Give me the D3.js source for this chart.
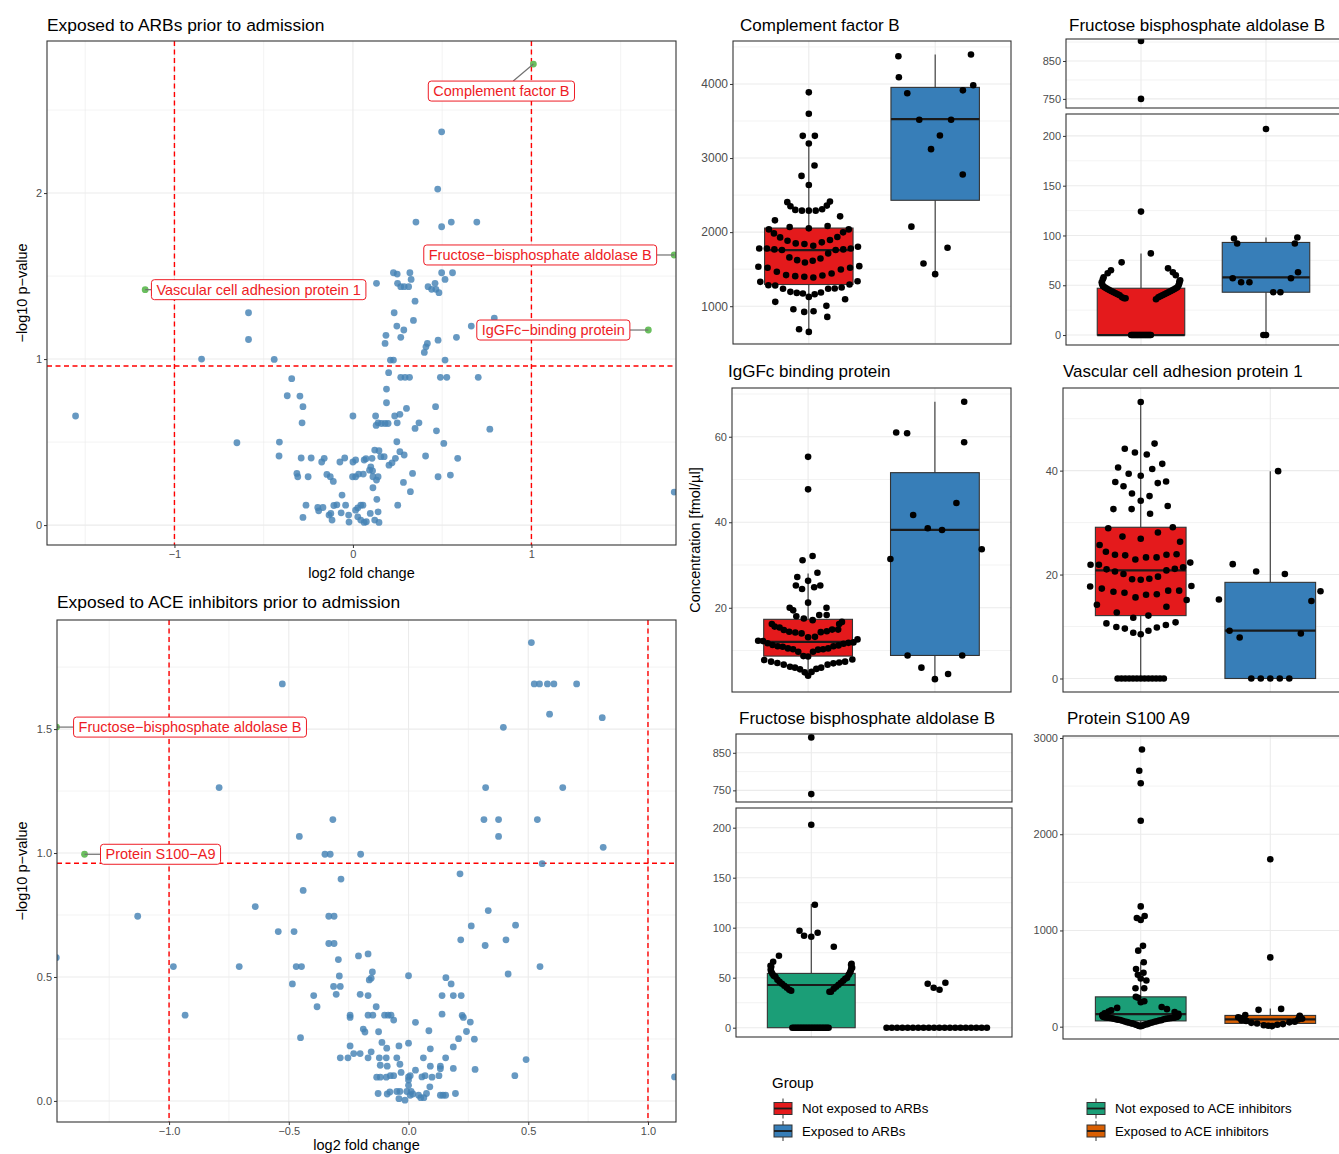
<!DOCTYPE html>
<html>
<head>
<meta charset="utf-8">
<script src="https://cdn.jsdelivr.net/npm/d3@7/dist/d3.min.js"></script>
<style>
  body { margin: 0; background: #fff; }
  svg text { font-family: "Liberation Sans", Arial, Helvetica, sans-serif; }
</style>
</head>
<body>
<svg id="fig" width="1339" height="1154"></svg>
<script>
// ---- volcano data: [log2 fold change, -log10 p] ----
const arbPoints = [
  [0.497,2.369],[0.475,2.024],[0.353,1.825],[0.497,1.797],[0.551,1.825],[0.694,1.825],
  [0.227,1.520],[0.248,1.512],[0.319,1.520],[0.497,1.520],[0.558,1.520],[0.326,1.480],[0.516,1.480],
  [0.132,1.456],[0.250,1.456],[0.268,1.436],[0.287,1.436],[0.312,1.436],[0.421,1.436],[0.460,1.456],
  [0.441,1.420],[0.465,1.420],[0.482,1.400],
  [0.348,1.349],[0.231,1.279],[0.339,1.233],[0.246,1.199],[0.285,1.175],[0.185,1.143],[0.268,1.131],
  [0.180,1.094],[0.417,1.094],[0.409,1.074],[0.400,1.040],[0.477,1.114],[0.580,1.131],[0.663,1.199],[0.792,1.247],
  [-0.585,1.279],[-0.585,1.118],[-0.848,1.000],[-0.441,0.998],[0.210,0.994],[0.227,0.994],[0.516,0.994],
  [0.200,0.918],[0.268,0.890],[0.292,0.890],[0.317,0.890],[0.490,0.890],[0.526,0.890],[0.702,0.890],
  [-0.343,0.882],[0.188,0.819],[-0.368,0.779],[-0.297,0.777],[-0.280,0.713],[0.188,0.737],[0.300,0.703],[0.463,0.713],
  [-1.554,0.657],[0.000,0.657],[0.127,0.657],[0.234,0.657],[0.263,0.667],
  [-0.285,0.616],[0.130,0.600],[0.141,0.616],[0.160,0.612],[0.180,0.612],[0.197,0.612],[0.248,0.616],[0.370,0.616],
  [0.348,0.582],[0.468,0.568],[0.767,0.578],
  [-0.650,0.496],[-0.412,0.500],[0.246,0.502],[0.509,0.492],
  [-0.414,0.416],[-0.290,0.404],[-0.234,0.404],[-0.175,0.380],[-0.161,0.402],[-0.073,0.380],[-0.046,0.404],
  [0.000,0.380],[0.015,0.392],[0.063,0.392],[0.073,0.400],[0.107,0.402],[0.122,0.452],[0.146,0.448],[0.156,0.412],[0.175,0.412],
  [0.100,0.351],[0.110,0.327],[0.202,0.361],[0.219,0.375],[0.238,0.402],[0.263,0.442],[0.287,0.422],[0.407,0.416],[0.587,0.402],
  [-0.314,0.311],[-0.309,0.291],[-0.251,0.291],[-0.146,0.305],[-0.127,0.291],[-0.110,0.263],
  [-0.002,0.291],[0.015,0.291],[0.032,0.307],[0.058,0.307],[0.093,0.331],[0.112,0.291],[0.132,0.271],[0.141,0.291],
  [0.112,0.225],[0.134,0.155],[0.283,0.257],[0.322,0.201],[0.334,0.311],[0.477,0.291],[0.546,0.301],[1.800,0.199],
  [-0.061,0.181],[-0.263,0.120],[-0.197,0.106],[-0.168,0.106],[-0.192,0.086],
  [-0.134,0.060],[-0.124,0.070],[-0.107,0.118],[-0.090,0.122],[-0.041,0.120],[-0.117,0.030],[-0.280,0.046],[-0.066,0.074],
  [-0.024,0.060],[-0.022,0.018],[0.015,0.090],[0.027,0.104],[0.044,0.120],[0.056,0.120],
  [0.027,0.050],[0.044,0.030],[0.063,0.016],[0.075,0.020],[0.097,0.070],[0.122,0.030],[0.141,0.080],[0.146,0.016],[0.251,0.120]
];
const arbHighlights = [
  ["Complement factor B", 1.011, 2.777],
  ["Fructose\u2212bisphosphate aldolase B", 1.80, 1.627],
  ["Vascular cell adhesion protein 1", -1.164, 1.418],
  ["IgGFc\u2212binding protein", 1.655, 1.175]
];
const acePoints = [
  [0.513,1.849],[-0.527,1.682],[0.525,1.682],[0.547,1.682],[0.580,1.682],[0.607,1.682],[0.702,1.682],
  [0.589,1.560],[0.809,1.546],[0.396,1.507],[-0.791,1.264],[0.322,1.264],[0.644,1.264],
  [-0.316,1.135],[0.315,1.135],[0.376,1.135],[0.538,1.135],[-0.456,1.067],[0.376,1.067],[0.813,1.023],
  [-0.349,0.995],[-0.327,0.995],[-0.200,0.995],[0.558,0.957],[0.215,0.916],[-0.282,0.895],
  [-0.440,0.849],[-0.640,0.784],[-1.131,0.745],[-0.333,0.745],[-0.311,0.745],[0.333,0.768],[0.262,0.706],[0.447,0.709],
  [-0.544,0.683],[-0.478,0.683],[-0.333,0.635],[-0.311,0.635],[0.218,0.650],[0.407,0.650],[0.320,0.627],
  [-0.209,0.585],[-0.169,0.593],[-0.293,0.570],[-1.471,0.578],[-0.982,0.542],[-0.707,0.542],[-0.469,0.542],[-0.447,0.542],[0.549,0.542],
  [-0.151,0.520],[-0.156,0.495],[-0.164,0.488],[-0.289,0.504],[0.000,0.505],[0.156,0.497],[0.178,0.472],[0.416,0.512],
  [-0.485,0.472],[-0.313,0.462],[-0.285,0.462],[-0.302,0.430],[-0.202,0.430],[-0.169,0.425],[-0.396,0.425],
  [0.140,0.425],[0.187,0.425],[0.220,0.425],[-0.382,0.380],[-0.135,0.380],
  [-0.933,0.346],[-0.244,0.346],[-0.244,0.337],[-0.169,0.346],[-0.149,0.346],[-0.100,0.346],[-0.085,0.346],[-0.073,0.346],[-0.062,0.326],
  [0.140,0.350],[0.224,0.345],[0.229,0.337],[0.029,0.317],[0.258,0.318],
  [-0.189,0.290],[-0.182,0.278],[-0.125,0.279],[0.085,0.283],[0.242,0.280],[-0.451,0.255],
  [-0.111,0.236],[0.000,0.233],[-0.244,0.222],[-0.091,0.213],[-0.040,0.222],[0.209,0.251],[0.275,0.249],[0.187,0.218],[0.091,0.210],
  [-0.156,0.198],[-0.229,0.191],[-0.202,0.191],[-0.285,0.174],[-0.253,0.174],[-0.169,0.174],[-0.122,0.174],[-0.093,0.174],[-0.049,0.174],
  [0.062,0.174],[0.155,0.174],[0.491,0.167],
  [-0.118,0.144],[-0.089,0.140],[-0.036,0.148],[0.091,0.140],[0.133,0.140],[0.133,0.130],[0.029,0.124],[0.278,0.127],[0.187,0.131],
  [-0.133,0.096],[-0.118,0.096],[-0.093,0.096],[-0.076,0.102],[-0.062,0.102],[-0.031,0.115],[0.000,0.097],[0.007,0.102],[0.000,0.084],[0.000,0.063],
  [0.056,0.097],[0.069,0.102],[0.098,0.096],[0.127,0.102],[0.444,0.102],[1.111,0.097],
  [-0.127,0.030],[-0.089,0.028],[-0.078,0.036],[-0.049,0.038],[-0.036,0.038],[-0.040,0.009],[-0.015,0.003],
  [-0.007,0.038],[0.007,0.023],[0.011,0.038],[0.018,0.028],[0.042,0.023],[0.051,0.013],[0.064,0.013],[0.075,0.030],[0.089,0.057],
  [0.133,0.023],[0.144,0.023],[0.155,0.023],[0.196,0.030]
];
const aceHighlights = [
  ["Fructose\u2212bisphosphate aldolase B", -1.47, 1.508],
  ["Protein S100\u2212A9", -1.353, 0.995]
];

// ---- concentration data per group ----
const cfbNotARB = [3887,3598,3300,3300,3197,2899,2759,2637,2412,2405,2358,2350,2308,2300,2290,2290,2290,2213,2159,2083,2069,2051,2037,2037,
  1997,1983,1934,1929,1893,1884,1862,1848,1839,1816,1803,1780,1780,1780,1767,1767,1758,1758,1713,1659,1645,1622,1613,1591,
  1541,1532,1519,1519,1496,1465,1442,1420,1415,1406,1397,1388,1338,1329,1293,1284,1280,1253,1239,1235,1235,1194,1185,1180,
  1171,1162,1126,1095,1059,1005,959,932,923,856,689,653];
const cfbExpARB = [4397,4374,4090,3982,3914,3874,3517,3517,3305,3120,2777,2074,1789,1577,1433];
const fbaNotARB = [0,0,0,0,0,0,0,0,0,0,0,0,0,0,0,0,0,0,0,0,36,37,37,38,38,39,40,40,41,41,42,42,43,43,44,44,45,45,46,46,47,47,
  48,48,49,50,51,52,53,54,55,56,58,60,62,63,65,67,73,82,124,750,903];
const fbaExpARB = [0,0,43,43,53,53,57,57,63,92,92,97,98,207];
const iggNotARB = [55.3,47.7,32.1,31.1,28.2,27.2,26.3,25.2,25.2,24.8,24.4,21.2,20.0,20.0,19.4,18.3,18.3,18.0,17.5,17.1,16.7,16.2,
  16.2,15.6,15.4,14.9,14.9,14.8,14.5,14.4,14.3,14.2,14.0,13.2,13.1,12.6,12.3,12.2,11.9,11.8,11.7,11.6,11.3,11.2,11.0,11.0,10.9,
  10.5,10.5,10.3,10.3,10.2,9.7,9.7,8.7,8.6,7.9,7.8,7.4,7.4,7.2,7.1,7.0,6.7,6.7,6.2,6.0,6.0,5.7,5.6,5.0,4.9,4.1];
const iggExpARB = [68.2,61.0,60.8,58.7,44.5,41.7,38.6,38.2,33.7,31.4,8.85,8.85,6.0,4.5,3.3];
const vcamNotARB = [53.2,45.2,44.2,43.5,43.1,41.3,40.6,40.3,39.4,39.0,37.9,37.8,37.6,37.0,35.6,35.1,34.2,33.2,32.6,32.6,31.7,
  29.1,28.9,28.1,27.3,26.9,26.3,25.7,24.4,23.9,23.8,23.8,23.7,23.3,23.3,22.9,22.3,21.9,21.9,21.4,21.1,21.0,20.8,20.6,20.1,19.6,
  19.2,19.1,19.0,17.8,17.7,17.3,16.9,16.9,16.7,16.5,16.2,16.1,15.6,15.1,14.2,13.8,12.7,12.1,11.7,10.8,10.6,10.3,9.9,9.8,9.6,
  9.2,8.8,8.5,0,0,0,0,0,0,0,0,0,0,0,0,0];
const vcamExpARB = [39.9,22.0,20.6,20.1,16.8,15.2,14.9,9.2,8.65,7.9,0,0,0,0,0];
const fbaNotACE = [0,0,0,0,0,0,0,0,0,0,0,0,0,0,0,0,0,0,0,0,0,0,0,0,36,36,37,38,39,40,41,42,43,44,45,46,47,48,49,50,51,52,53,
  54,55,56,57,58,59,60,61,62,63,64,66,72,81,91,92,95,97,123,203,740,891];
const fbaExpACE = [0,0,0,0,0,0,0,0,0,0,0,0,0,0,0,0,0,0,0,0,38,40,44,45];
const s100NotACE = [2880,2660,2530,2140,1250,1150,1130,1110,840,790,670,600,560,540,500,480,400,400,310,300,265,255,205,195,
  182,171,158,152,139,133,128,122,117,113,108,104,101,99,97,96,94,93,91,90,88,87,85,83,81,78,76,73,70,67,64,61,57,54,
  51,47,44,41,37,34,31,27,24,21,17,14,11,8,5];
const s100ExpACE = [1740,720,185,175,120,112,105,98,90,82,75,68,60,52,45,40,33,27,20,15,10,6];

// box statistics [lower whisker, q1, median, q3, upper whisker]
const cfbBox = [[653,1293,1758,2055,3197],[1433,2430,3526,3954,4397]];
const fbaARBBox = [[0,0,0,47,82],[0,43,58,93,98]];
const iggBox = [[3.9,8.7,12.0,17.3,28.0],[3.3,8.85,38.2,51.6,68.2]];
const vcamBox = [[0,12.1,20.8,29.1,53.2],[0,0,9.2,18.5,39.9]];
const fbaACEBox = [[0,0,42.7,54.3,123.7],[0,0,0,0,0]];
const s100Box = [[0,60,130,310,670],[0,34,76,117,190]];

const groupNames = ["Not exposed to ARBs","Exposed to ARBs","Not exposed to ACE inhibitors","Exposed to ACE inhibitors"];

// ---- styling ----
const RED = "#e41a1c", BLUE = "#377eb8", GREEN = "#1b9e77", ORANGE = "#d95f02";
const LABEL_RED = "#ee1c25";
const BORDER = "#333333", GRID = "#ebebeb", TICKTXT = "#4d4d4d";

const svg = d3.select("#fig");
const defs = svg.append("defs");

function styleAxis(g, size) {
  g.select(".domain").remove();
  g.selectAll(".tick line").attr("stroke", BORDER);
  g.selectAll(".tick text").attr("fill", TICKTXT).style("font-size", size + "px");
}

function grid(g, x0, x1, y0, y1, xs, ys, w) {
  g.selectAll(null).data(ys).join("line")
    .attr("x1", x0).attr("x2", x1).attr("y1", d => d).attr("y2", d => d)
    .attr("stroke", GRID).attr("stroke-width", w);
  g.selectAll(null).data(xs).join("line")
    .attr("y1", y0).attr("y2", y1).attr("x1", d => d).attr("x2", d => d)
    .attr("stroke", GRID).attr("stroke-width", w);
}

// ---- volcano plots ----
function drawVolcano(cfg) {
  const g = svg.append("g");
  const x = d3.scaleLinear().domain(cfg.xDom).range([cfg.x0, cfg.x1]);
  const y = d3.scaleLinear().domain(cfg.yDom).range([cfg.y1, cfg.y0]);

  defs.append("clipPath").attr("id", "clip-" + cfg.id).append("rect")
    .attr("x", cfg.x0).attr("y", cfg.y0).attr("width", cfg.x1 - cfg.x0).attr("height", cfg.y1 - cfg.y0);

  grid(g, cfg.x0, cfg.x1, cfg.y0, cfg.y1, cfg.minorX.map(x), cfg.minorY.map(y), 0.6);
  grid(g, cfg.x0, cfg.x1, cfg.y0, cfg.y1, cfg.majorX.map(x), cfg.majorY.map(y), 1.1);

  const plot = g.append("g").attr("clip-path", `url(#clip-${cfg.id})`);

  // thresholds
  [-1, 1].forEach(v => plot.append("line")
    .attr("x1", x(v)).attr("x2", x(v)).attr("y1", cfg.y0).attr("y2", cfg.y1)
    .attr("stroke", "#ff0000").attr("stroke-width", 1.4).attr("stroke-dasharray", "5,3.5"));
  plot.append("line")
    .attr("x1", cfg.x0).attr("x2", cfg.x1).attr("y1", y(-Math.log10(0.11))).attr("y2", y(-Math.log10(0.11)))
    .attr("stroke", "#ff0000").attr("stroke-width", 1.4).attr("stroke-dasharray", "5,3.5");

  plot.selectAll(".pt").data(cfg.points).join("circle")
    .attr("cx", d => x(d[0])).attr("cy", d => y(d[1])).attr("r", 3.4)
    .attr("fill", "#4682b4").attr("fill-opacity", 0.82);

  plot.selectAll(".hl").data(cfg.highlights).join("circle")
    .attr("cx", d => x(d[1])).attr("cy", d => y(d[2])).attr("r", 3.4)
    .attr("fill", "#6abf5e");

  // labels
  cfg.highlights.forEach((d, i) => {
    const px = x(d[1]), py = y(d[2]);
    const cx = px + cfg.labelOffsets[i][0], cy = py + cfg.labelOffsets[i][1];
    const lg = plot.append("g");
    const seg = lg.append("line").attr("stroke", "#707070").attr("stroke-width", 1.2);
    const rect = lg.append("rect");
    const t = lg.append("text").attr("x", cx).attr("y", cy + 5)
      .attr("text-anchor", "middle").attr("fill", LABEL_RED).style("font-size", "14.5px").text(d[0]);
    const hw = t.node().getComputedTextLength() / 2 + 5, hh = 10;
    rect.attr("x", cx - hw).attr("y", cy - hh).attr("width", 2 * hw).attr("height", 2 * hh)
      .attr("rx", 3).attr("fill", "#fff").attr("stroke", LABEL_RED).attr("stroke-width", 1);
    const dx = px - cx, dy = py - cy;
    const s = Math.min(dx ? hw / Math.abs(dx) : Infinity, dy ? hh / Math.abs(dy) : Infinity);
    seg.attr("x1", px).attr("y1", py).attr("x2", cx + dx * s).attr("y2", cy + dy * s);
  });

  g.append("rect").attr("x", cfg.x0).attr("y", cfg.y0)
    .attr("width", cfg.x1 - cfg.x0).attr("height", cfg.y1 - cfg.y0)
    .attr("fill", "none").attr("stroke", BORDER).attr("stroke-width", 1.1);

  const ax = g.append("g").attr("transform", `translate(0,${cfg.y1})`)
    .call(d3.axisBottom(x).tickValues(cfg.majorX).tickFormat(cfg.fmtX).tickSize(3).tickPadding(2));
  styleAxis(ax, 11);
  const ay = g.append("g").attr("transform", `translate(${cfg.x0},0)`)
    .call(d3.axisLeft(y).tickValues(cfg.majorY).tickFormat(cfg.fmtY).tickSize(3).tickPadding(2));
  styleAxis(ay, 11);

  g.append("text").attr("x", cfg.x0).attr("y", cfg.titleY)
    .style("font-size", "17.4px").attr("fill", "#000").text(cfg.title);
  g.append("text").attr("x", (cfg.x0 + cfg.x1) / 2).attr("y", cfg.xTitleY)
    .attr("text-anchor", "middle").style("font-size", "14.5px").text("log2 fold change");
  g.append("text").attr("transform", `translate(27,${(cfg.y0 + cfg.y1) / 2}) rotate(-90)`)
    .attr("text-anchor", "middle").style("font-size", "14.5px").text("\u2212log10 p\u2212value");
}

drawVolcano({
  id: "arb", title: "Exposed to ARBs prior to admission", titleY: 30.5,
  x0: 47, x1: 676, y0: 41, y1: 545, xDom: [-1.714, 1.81], yDom: [-0.12, 2.916],
  majorX: [-1, 0, 1], minorX: [-1.5, -0.5, 0.5, 1.5], majorY: [0, 1, 2], minorY: [0.5, 1.5, 2.5],
  fmtX: d3.format("d"), fmtY: d3.format("d"), xTitleY: 578,
  points: arbPoints, highlights: arbHighlights,
  labelOffsets: [[-32, 27], [-134, 0], [113.5, 0], [-95, 0]]
});
drawVolcano({
  id: "ace", title: "Exposed to ACE inhibitors prior to admission", titleY: 608,
  x0: 57, x1: 676, y0: 620, y1: 1122, xDom: [-1.468, 1.117], yDom: [-0.085, 1.94],
  majorX: [-1, -0.5, 0, 0.5, 1], minorX: [-1.25, -0.75, -0.25, 0.25, 0.75],
  majorY: [0, 0.5, 1, 1.5], minorY: [0.25, 0.75, 1.25, 1.75],
  fmtX: d3.format(".1f"), fmtY: d3.format(".1f"), xTitleY: 1150,
  points: acePoints, highlights: aceHighlights,
  labelOffsets: [[133.5, 0], [76, 0]]
});

// ---- quasirandom "smiley" offsets (density scaled, binned) ----
function smileyOffsets(vals, width) {
  const n = vals.length;
  const s = vals.slice().sort(d3.ascending);
  const sd = d3.deviation(vals);
  const iqr = d3.quantile(s, 0.75) - d3.quantile(s, 0.25);
  let lo = Math.min(sd, iqr / 1.34);
  if (!(lo > 0)) lo = sd;
  const bw = 0.9 * lo * Math.pow(n, -0.2);
  const dens = v => d3.sum(vals, u => Math.exp(-0.5 * ((v - u) / bw) ** 2));
  const [mn, mx] = d3.extent(vals);
  const gridV = d3.range(512).map(i => mn - 3 * bw + (mx - mn + 6 * bw) * i / 511);
  const dmax = d3.max(gridV, dens);
  const nb = Math.max(1, Math.floor(n / 6));
  const step = (mx - mn) / nb || 1;
  const bins = d3.group(vals.map((v, i) => ({ v, i })),
    d => Math.min(nb - 1, Math.floor((d.v - mn) / step)));
  const out = new Array(n).fill(0);
  bins.forEach(members => {
    members.sort((a, b) => a.v - b.v);
    const m = members.length;
    const slots = d3.range(m).map(j => (m === 1 ? 0 : -1 + (2 * j) / (m - 1)))
      .sort((a, b) => Math.abs(a) - Math.abs(b) || a - b);
    members.forEach((d, j) => { out[d.i] = slots[j] * width * dens(d.v) / dmax; });
  });
  return out;
}

// ---- box plot panels ----
function drawBoxPanel(cfg) {
  const g = svg.append("g");
  const xc = d3.scaleLinear().domain([0.4, 2.6]).range([cfg.x0, cfg.x1]);
  const band = xc(2) - xc(1);
  const offsets = cfg.groups.map(v => smileyOffsets(v, 0.4));

  cfg.parts.forEach((p, pi) => {
    const y = d3.scaleLinear().domain(p.dom).range([p.y1, p.y0]);
    const id = `clip-${cfg.id}-${pi}`;
    defs.append("clipPath").attr("id", id).append("rect")
      .attr("x", cfg.x0).attr("y", p.y0).attr("width", cfg.x1 - cfg.x0).attr("height", p.y1 - p.y0);

    grid(g, cfg.x0, cfg.x1, p.y0, p.y1, [], p.minor.map(y), 0.6);
    grid(g, cfg.x0, cfg.x1, p.y0, p.y1, [xc(1), xc(2)], p.major.map(y), 1.1);

    const plot = g.append("g").attr("clip-path", `url(#${id})`);
    cfg.stats.forEach((st, k) => {
      const cx = xc(k + 1), hw = 0.35 * band;
      plot.append("line").attr("x1", cx).attr("x2", cx).attr("y1", y(st[3])).attr("y2", y(st[4]))
        .attr("stroke", BORDER).attr("stroke-width", 1.1);
      plot.append("line").attr("x1", cx).attr("x2", cx).attr("y1", y(st[1])).attr("y2", y(st[0]))
        .attr("stroke", BORDER).attr("stroke-width", 1.1);
      plot.append("rect").attr("x", cx - hw).attr("width", 2 * hw)
        .attr("y", y(st[3])).attr("height", Math.max(0, y(st[1]) - y(st[3])))
        .attr("fill", cfg.fills[k]).attr("stroke", BORDER).attr("stroke-width", 1.1);
      plot.append("line").attr("x1", cx - hw).attr("x2", cx + hw).attr("y1", y(st[2])).attr("y2", y(st[2]))
        .attr("stroke", "#1a1a1a").attr("stroke-width", 2.2);
    });
    cfg.groups.forEach((vals, k) => {
      const pts = vals.map((v, i) => [v, offsets[k][i]]).filter(d => d[0] >= p.dom[0] && d[0] <= p.dom[1]);
      plot.selectAll(null).data(pts).join("circle")
        .attr("cx", d => xc(k + 1) + d[1] * band).attr("cy", d => y(d[0])).attr("r", 3.3)
        .attr("fill", "#000");
    });

    g.append("rect").attr("x", cfg.x0).attr("y", p.y0)
      .attr("width", cfg.x1 - cfg.x0).attr("height", p.y1 - p.y0)
      .attr("fill", "none").attr("stroke", BORDER).attr("stroke-width", 1.1);
    const ay = g.append("g").attr("transform", `translate(${cfg.x0},0)`)
      .call(d3.axisLeft(y).tickValues(p.major).tickFormat(d3.format("d")).tickSize(3).tickPadding(2));
    styleAxis(ay, cfg.tickSize || 11);
  });

  g.append("text").attr("x", cfg.tx).attr("y", cfg.ty)
    .style("font-size", "17px").attr("fill", "#000").text(cfg.title);
}

const fbaUpperTicks = { major: [750, 850], minor: [800, 900] };
const fbaLowerTicks = { major: [0, 50, 100, 150, 200], minor: [25, 75, 125, 175] };

drawBoxPanel({
  id: "cfb", title: "Complement factor B", tx: 740, ty: 30.5, x0: 733, x1: 1011, tickSize: 12,
  parts: [{ y0: 41, y1: 344, dom: [490, 4580], major: [1000, 2000, 3000, 4000], minor: [500, 1500, 2500, 3500, 4500] }],
  groups: [cfbNotARB, cfbExpARB], stats: cfbBox, fills: [RED, BLUE]
});
drawBoxPanel({
  id: "fba1", title: "Fructose bisphosphate aldolase B", tx: 1069, ty: 30.5, x0: 1066, x1: 1341,
  parts: [
    Object.assign({ y0: 39, y1: 108, dom: [726, 908] }, fbaUpperTicks),
    Object.assign({ y0: 114, y1: 345, dom: [-10, 222] }, fbaLowerTicks)
  ],
  groups: [fbaNotARB, fbaExpARB], stats: fbaARBBox, fills: [RED, BLUE]
});
drawBoxPanel({
  id: "igg", title: "IgGFc binding protein", tx: 728, ty: 377, x0: 732, x1: 1011,
  parts: [{ y0: 388, y1: 692, dom: [0.3, 71.4], major: [20, 40, 60], minor: [10, 30, 50, 70] }],
  groups: [iggNotARB, iggExpARB], stats: iggBox, fills: [RED, BLUE]
});
drawBoxPanel({
  id: "vcam", title: "Vascular cell adhesion protein 1", tx: 1063, ty: 377, x0: 1063, x1: 1348,
  parts: [{ y0: 388, y1: 692, dom: [-2.6, 55.9], major: [0, 20, 40], minor: [10, 30, 50] }],
  groups: [vcamNotARB, vcamExpARB], stats: vcamBox, fills: [RED, BLUE]
});
drawBoxPanel({
  id: "fba2", title: "Fructose bisphosphate aldolase B", tx: 739, ty: 724, x0: 736, x1: 1012,
  parts: [
    Object.assign({ y0: 734, y1: 802, dom: [719, 900] }, fbaUpperTicks),
    Object.assign({ y0: 808, y1: 1037, dom: [-9.3, 219.7] }, fbaLowerTicks)
  ],
  groups: [fbaNotACE, fbaExpACE], stats: fbaACEBox, fills: [GREEN, ORANGE]
});
drawBoxPanel({
  id: "s100", title: "Protein S100 A9", tx: 1067, ty: 723.5, x0: 1063, x1: 1348,
  parts: [{ y0: 736, y1: 1039, dom: [-128, 3021], major: [0, 1000, 2000, 3000], minor: [500, 1500, 2500] }],
  groups: [s100NotACE, s100ExpACE], stats: s100Box, fills: [GREEN, ORANGE]
});

svg.append("text").attr("transform", "translate(700,540) rotate(-90)")
  .attr("text-anchor", "middle").style("font-size", "14.5px").text("Concentration [fmol/\u00b5l]");

// ---- legend ----
const legend = svg.append("g");
legend.append("text").attr("x", 772).attr("y", 1087.5).style("font-size", "15px").text("Group");
const legendItems = [
  { name: groupNames[0], fill: RED, x: 774, y: 1108.5 },
  { name: groupNames[1], fill: BLUE, x: 774, y: 1131 },
  { name: groupNames[2], fill: GREEN, x: 1087, y: 1108.5 },
  { name: groupNames[3], fill: ORANGE, x: 1087, y: 1131 }
];
legendItems.forEach(d => {
  const k = legend.append("g");
  k.append("line").attr("x1", d.x + 9).attr("x2", d.x + 9).attr("y1", d.y - 10).attr("y2", d.y + 10)
    .attr("stroke", BORDER).attr("stroke-width", 1);
  k.append("rect").attr("x", d.x).attr("y", d.y - 6).attr("width", 18).attr("height", 12)
    .attr("fill", d.fill).attr("stroke", BORDER).attr("stroke-width", 1);
  k.append("line").attr("x1", d.x).attr("x2", d.x + 18).attr("y1", d.y).attr("y2", d.y)
    .attr("stroke", "#1a1a1a").attr("stroke-width", 1.8);
  k.append("text").attr("x", d.x + 28).attr("y", d.y + 4.8).style("font-size", "13.3px").text(d.name);
});
</script>
</body>
</html>
